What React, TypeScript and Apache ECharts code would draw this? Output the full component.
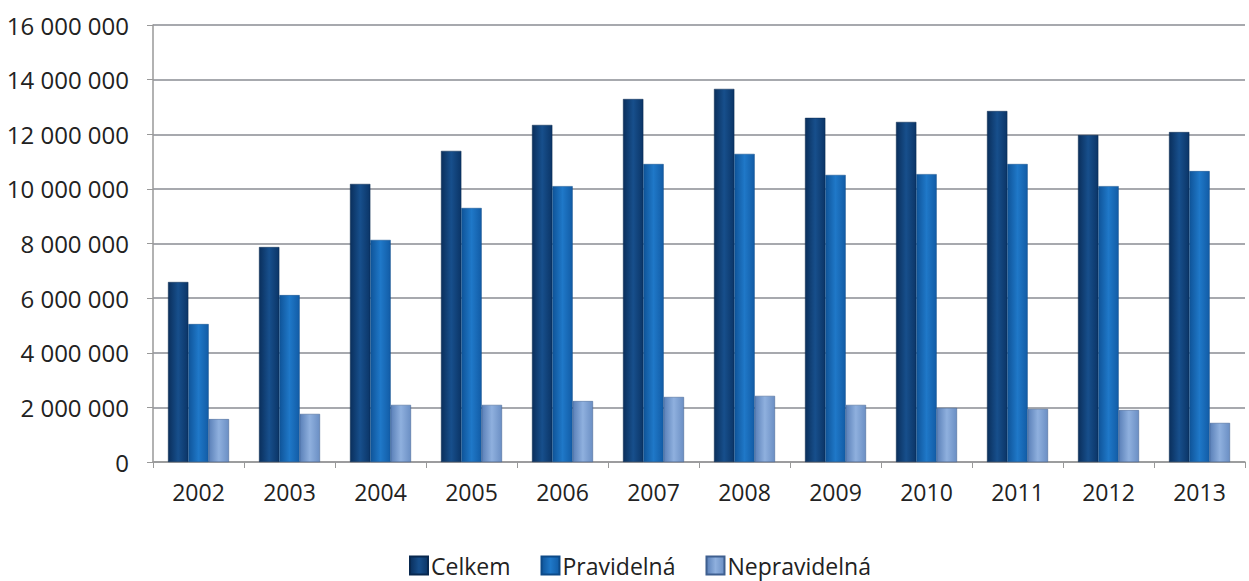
import React, { useEffect, useRef } from "react";
import * as echarts from "echarts";

const years = ["2002", "2003", "2004", "2005", "2006", "2007", "2008", "2009", "2010", "2011", "2012", "2013"];
const celkem = [6590000, 7870000, 10180000, 11390000, 12340000, 13290000, 13660000, 12600000, 12450000, 12850000, 11970000, 12080000];
const pravidelna = [5050000, 6110000, 8130000, 9300000, 10100000, 10910000, 11280000, 10510000, 10540000, 10910000, 10100000, 10650000];
const nepravidelna = [1570000, 1760000, 2090000, 2090000, 2230000, 2380000, 2420000, 2090000, 1980000, 1940000, 1900000, 1430000];

const fmt = (v: number) => String(v).replace(/\B(?=(\d{3})+(?!\d))/g, " ");

const grad = (a: string, b: string, c: string) =>
  new echarts.graphic.LinearGradient(0, 0, 1, 0, [
    { offset: 0, color: a },
    { offset: 0.5, color: b },
    { offset: 1, color: c },
  ]);

export default function App() {
  const ref = useRef<HTMLDivElement>(null);
  useEffect(() => {
    if (!ref.current) return;
    const chart = echarts.init(ref.current, undefined, { renderer: "svg" });
    const font = "'Open Sans', 'Noto Sans', sans-serif";
    chart.setOption({
      animation: false,
      textStyle: { fontFamily: font },
      grid: { left: 153, right: 4, top: 25, bottom: 119, containLabel: false },
      legend: {
        bottom: -1,
        left: 404,
        itemWidth: 18,
        itemHeight: 18,
        itemGap: 30,
        icon: "rect",
        textStyle: { fontSize: 23, color: "#222", fontFamily: font, padding: [0, 0, 0, -2] },
        data: ["Celkem", "Pravidelná", "Nepravidelná"],
      },
      xAxis: {
        type: "category",
        data: years,
        axisLine: { lineStyle: { color: "#999", width: 1.5 } },
        axisTick: { show: true, length: 6, lineStyle: { color: "#999" } },
        axisLabel: { fontSize: 23, color: "#222", margin: 18, fontFamily: font },
      },
      yAxis: {
        type: "value",
        min: 0,
        max: 16000000,
        interval: 2000000,
        axisLine: { show: true, lineStyle: { color: "#999", width: 1.5 } },
        axisTick: { show: true, length: 6, lineStyle: { color: "#999" } },
        axisLabel: { fontSize: 24, color: "#222", margin: 24, formatter: (v: number) => fmt(v), fontFamily: font },
        splitLine: { lineStyle: { color: "#8a8d93", width: 1.5 } },
      },
      series: [
        {
          name: "Celkem",
          type: "bar",
          data: celkem,
          barGap: "0%",
          barCategoryGap: "33%",
          itemStyle: { color: grad("#0a2f5c", "#174f8c", "#0b3567"), borderColor: "#08284f", borderWidth: 0.5 },
        },
        {
          name: "Pravidelná",
          type: "bar",
          data: pravidelna,
          itemStyle: { color: grad("#0f5499", "#1f78c8", "#125ca6"), borderColor: "#0d4a88", borderWidth: 0.5 },
        },
        {
          name: "Nepravidelná",
          type: "bar",
          data: nepravidelna,
          itemStyle: { color: grad("#5a80b8", "#8fb0de", "#6b8fc4"), borderColor: "#3e5f8f", borderWidth: 0.5 },
        },
      ],
    });
    return () => chart.dispose();
  }, []);
  return <div ref={ref} style={{ width: 1249, height: 581, position: "absolute", left: 0, top: 0 }} />;
}
